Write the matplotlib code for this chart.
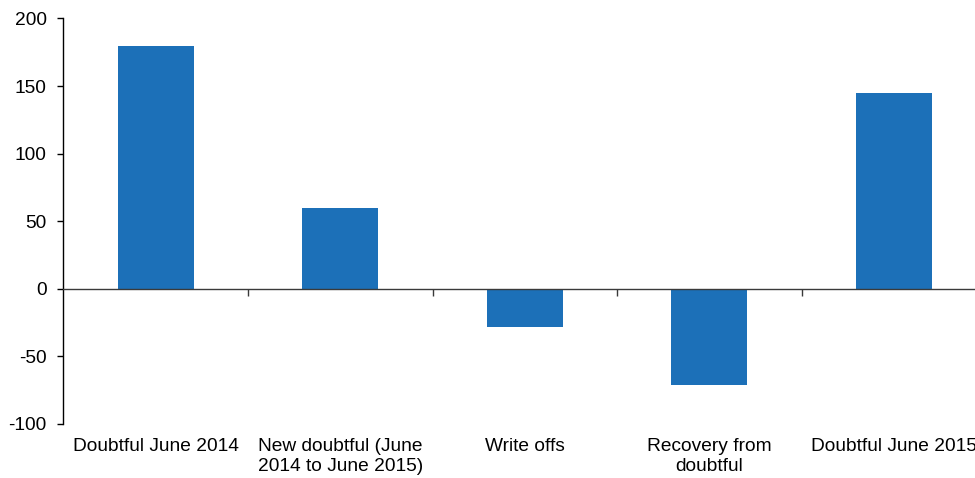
import matplotlib.pyplot as plt
import numpy as np

plt.rcParams['font.family'] = ['Liberation Sans', 'DejaVu Sans']

# Categories and values
categories = ['Doubtful June 2014', 'New doubtful (June\n2014 to June 2015)',
              'Write offs', 'Recovery from\ndoubtful', 'Doubtful June 2015']
values = [180, 60, -28, -71, 145]
yticks = [-100, -50, 0, 50, 100, 150, 200]

bar_color = '#1C70B8'

fig = plt.figure(figsize=(9.75, 4.78), dpi=100)
# axes runs a little past the right edge, like the original
ax = fig.add_axes([63.5 / 975, 1 - 424 / 478, 922.5 / 975, (424 - 18.5) / 478])

x = np.arange(len(categories))
ax.bar(x, values, width=0.41, color=bar_color, zorder=2)

ax.set_xlim(-0.5, len(categories) - 0.5)
ax.set_ylim(-100, 200)
ax.set_yticks(yticks)
ax.set_yticklabels([str(v) for v in yticks])

for side in ['top', 'right', 'bottom']:
    ax.spines[side].set_visible(False)
ax.spines['left'].set_linewidth(1.0)
ax.tick_params(axis='y', direction='out', length=4, width=1.0, labelsize=13.75, pad=8)

# category labels along the bottom, no tick marks
ax.set_xticks(x)
ax.set_xticklabels(categories, fontsize=13.75, linespacing=1.25)
ax.tick_params(axis='x', length=0, pad=10)

# zero line with separator ticks between categories
ax.axhline(0, color='#3a3a3a', linewidth=1.0, zorder=3)
zero_axis = ax.secondary_xaxis(1 / 3)
zero_axis.set_xticks(np.arange(len(categories) - 1) + 0.5)
zero_axis.set_xticklabels([])
zero_axis.spines['bottom'].set_visible(False)
zero_axis.tick_params(axis='x', direction='out', length=5, width=1.0, color='#3a3a3a')

fig.savefig('out.png', dpi=100)
